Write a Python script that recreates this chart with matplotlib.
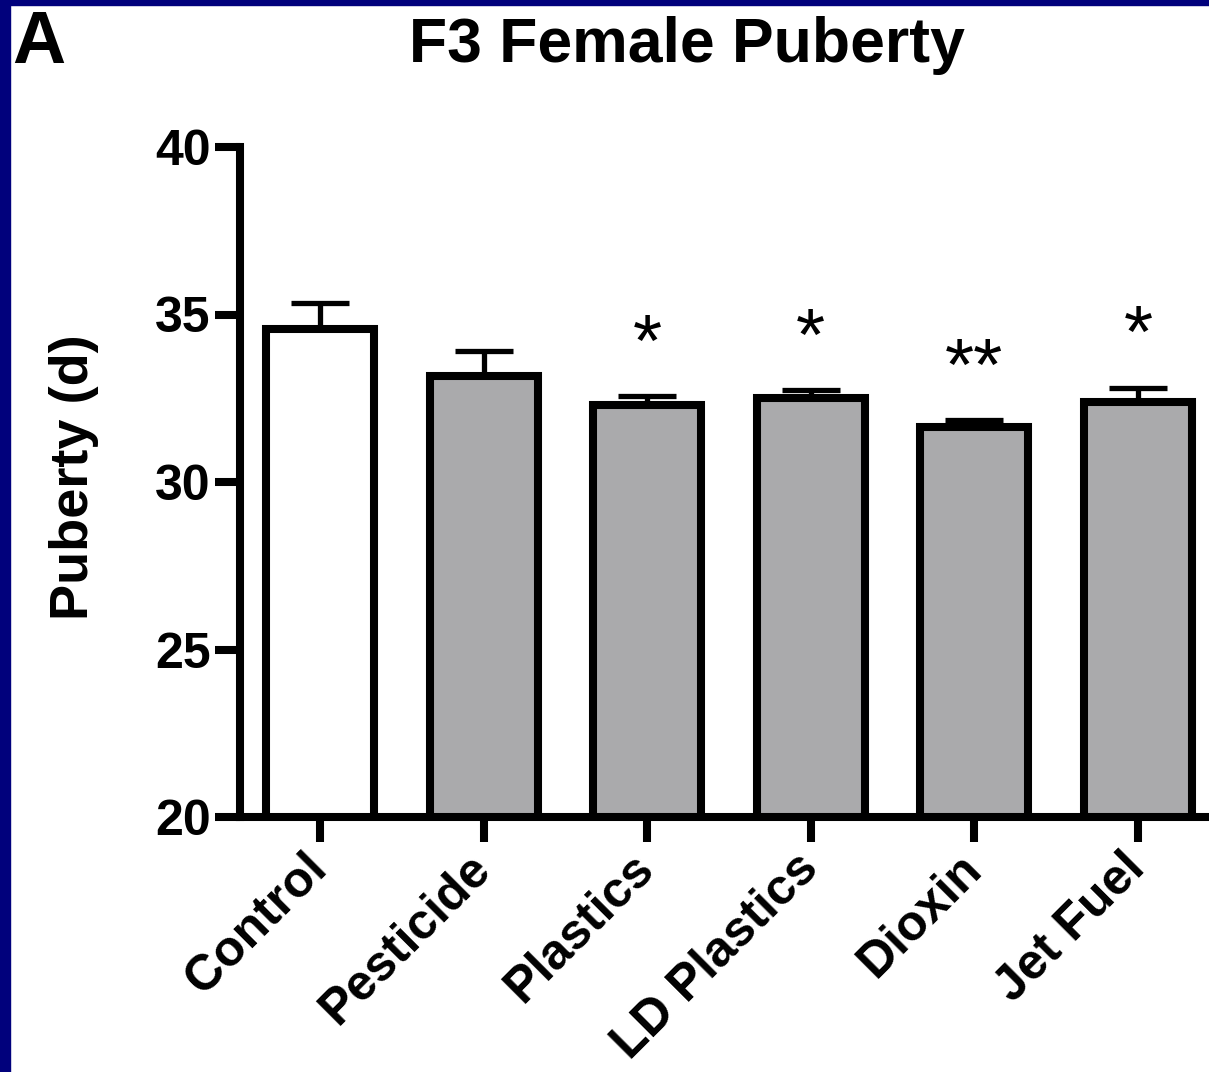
import matplotlib
matplotlib.use("Agg")
import matplotlib.pyplot as plt
from matplotlib.patches import Rectangle
import numpy as np

plt.rcParams['font.family'] = ['Liberation Sans', 'DejaVu Sans']
plt.rcParams['font.weight'] = 'bold'

groups = ['Control', 'Pesticide', 'Plastics', 'LD Plastics', 'Dioxin', 'Jet Fuel']
means = [34.57, 33.16, 32.30, 32.51, 31.63, 32.40]
sems = [0.76, 0.75, 0.26, 0.24, 0.22, 0.42]
stars = ['', '', '*', '*', '**', '*']
fills = ['white', '#aaaaac', '#aaaaac', '#aaaaac', '#aaaaac', '#aaaaac']
yticks = [20, 25, 30, 35, 40]

W, H = 1209, 1072
fig = plt.figure(figsize=(W / 100, H / 100), dpi=100)
fig.patch.set_facecolor('white')

# navy slide frame along the left and top edges
fig.patches.append(Rectangle((0, 0), 10 / W, 1, transform=fig.transFigure,
                             color='#01017c', zorder=10))
fig.patches.append(Rectangle((0, 1 - 5 / H), 1, 5 / H, transform=fig.transFigure,
                             color='#01017c', zorder=10))

ax = fig.add_axes([240 / W, 1 - 817 / H, 969 / W, 670 / H])
x = np.arange(len(groups))

lw = 5.8
ax.errorbar(x, means, yerr=[np.zeros(len(sems)), sems], fmt='none',
            ecolor='black', elinewidth=3.8, capsize=21, capthick=3.8, zorder=1)
ax.bar(x, means, width=0.66, bottom=0, color=fills, edgecolor='black',
       linewidth=lw, zorder=2)

# significance marks above the error caps
for xi, m, s, st in zip(x, means, sems, stars):
    if st:
        ax.text(xi, m + s + 0.9, st, ha='center', va='baseline',
                fontsize=54, fontweight='normal')

ax.set_xlim(-0.489, 5.434)
ax.set_ylim(20, 40)
ax.set_yticks(yticks)
ax.set_xticks(x)
ax.set_xticklabels(groups, rotation=45, ha='right', va='center',
                   rotation_mode='anchor', fontsize=36, fontweight='bold')
ax.tick_params(axis='y', labelsize=36, length=18, width=lw, pad=3)
ax.tick_params(axis='x', length=18, width=lw, pad=14)
for lab in ax.get_yticklabels():
    lab.set_fontweight('bold')

for side in ['top', 'right']:
    ax.spines[side].set_visible(False)
for side in ['left', 'bottom']:
    ax.spines[side].set_linewidth(lw)
ax.spines['bottom'].set_zorder(3)

fig.text(74 / W, 1 - 477 / H, 'Puberty (d)', rotation=90, ha='center',
         va='center', fontsize=39, fontweight='bold')
fig.text(687 / W, 1 - 62 / H, 'F3 Female Puberty', ha='center',
         va='baseline', fontsize=45, fontweight='bold')
fig.text(12 / W, 1 - 63 / H, 'A', ha='left', va='baseline',
         fontsize=53, fontweight='bold')

fig.savefig('out.png', dpi=100)
